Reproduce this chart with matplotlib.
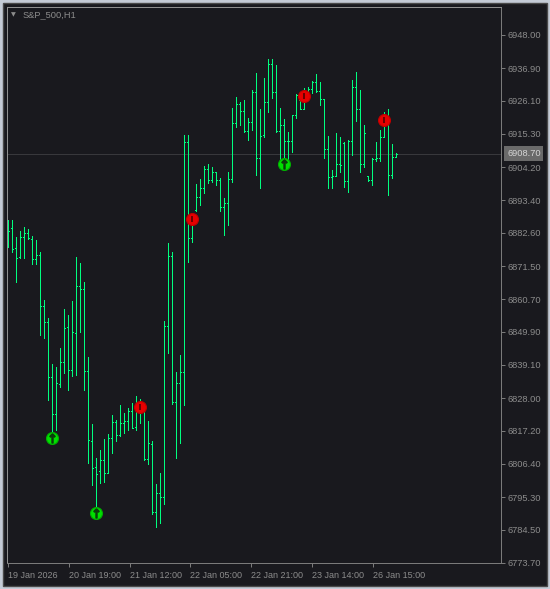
"""
Recreate the S&P_500 H1 bar chart (MetaTrader style) with signal markers.
"""
import matplotlib.pyplot as plt
import numpy as np
from matplotlib.patches import Rectangle

plt.rcParams["font.family"] = ["Liberation Sans", "DejaVu Sans"]

symbol = "S&P_500,H1"

opens = [
    6883.5, 6884.1, 6877.5, 6874.5, 6881.1, 6882.4, 6880.6, 6873.8, 6875.3, 6858.4,
    6853.3, 6834.9, 6822.7, 6832.7, 6839.8, 6851.6, 6837.3, 6849.4, 6865.0, 6863.9,
    6837.1, 6814.0, 6805.4, 6803.8, 6807.6, 6803.2, 6814.9, 6820.3, 6815.8, 6819.7,
    6820.4, 6823.8, 6818.4, 6824.7, 6824.1, 6807.9, 6812.8, 6790.3, 6796.6, 6795.5,
    6851.9, 6875.0, 6826.6, 6832.9, 6836.6, 6912.4, 6880.8, 6890.1, 6894.5, 6897.5,
    6903.6, 6900.0, 6902.6, 6900.0, 6891.1, 6892.3, 6900.4, 6918.7, 6925.0, 6922.9,
    6916.2, 6919.2, 6929.2, 6907.2, 6914.7, 6925.9, 6938.3, 6929.0, 6916.3, 6918.0,
    6912.9, 6912.9, 6921.3, 6926.4, 6923.4, 6929.4, 6930.1, 6932.3, 6929.3, 6926.7,
    6910.2, 6900.9, 6901.4, 6905.2, 6912.1, 6899.7, 6913.0, 6930.8, 6923.6, 6905.3,
    6901.4, 6900.0, 6907.0, 6907.2, 6914.1, 6921.5, 6901.7, 6907.5,
]
highs = [
    6886.8, 6886.8, 6881.3, 6883.2, 6884.5, 6883.9, 6881.5, 6880.2, 6876.4, 6860.4,
    6854.6, 6839.3, 6838.4, 6844.5, 6857.5, 6855.5, 6860.1, 6874.6, 6872.6, 6866.4,
    6841.6, 6819.5, 6808.4, 6810.9, 6814.5, 6816.1, 6822.4, 6820.8, 6825.8, 6823.2,
    6824.7, 6826.5, 6828.7, 6827.6, 6824.3, 6820.5, 6813.9, 6799.7, 6803.2, 6853.5,
    6879.2, 6876.3, 6836.7, 6842.3, 6914.9, 6914.9, 6889.0, 6898.7, 6900.4, 6904.7,
    6905.3, 6904.3, 6902.6, 6900.7, 6894.1, 6902.7, 6923.8, 6927.4, 6925.8, 6926.4,
    6920.5, 6929.7, 6935.4, 6923.5, 6933.7, 6940.0, 6940.0, 6938.0, 6923.7, 6920.2,
    6916.0, 6921.5, 6928.4, 6929.0, 6930.3, 6930.6, 6932.7, 6935.0, 6932.3, 6926.7,
    6914.6, 6903.3, 6915.6, 6914.1, 6912.5, 6913.2, 6933.0, 6935.6, 6929.7, 6918.2,
    6901.4, 6907.3, 6912.6, 6916.5, 6922.3, 6923.4, 6911.9, 6908.8,
]
lows = [
    6878.0, 6876.1, 6866.5, 6874.4, 6874.1, 6880.4, 6872.2, 6872.2, 6849.0, 6848.0,
    6827.4, 6817.0, 6817.5, 6831.8, 6836.4, 6830.7, 6835.4, 6835.8, 6850.0, 6830.7,
    6806.7, 6799.4, 6792.4, 6799.9, 6800.4, 6803.2, 6809.8, 6814.0, 6815.5, 6816.6,
    6817.5, 6818.1, 6817.5, 6819.7, 6807.6, 6806.2, 6789.7, 6785.6, 6786.7, 6793.0,
    6843.0, 6826.0, 6808.2, 6813.1, 6825.7, 6873.1, 6879.7, 6889.9, 6891.9, 6895.8,
    6898.9, 6899.5, 6898.2, 6889.9, 6881.7, 6885.0, 6899.2, 6917.6, 6918.1, 6915.7,
    6913.2, 6916.5, 6901.8, 6897.2, 6914.1, 6922.6, 6927.0, 6916.0, 6906.6, 6907.4,
    6906.6, 6909.1, 6920.4, 6923.4, 6923.4, 6926.4, 6928.6, 6929.0, 6924.6, 6907.2,
    6897.2, 6897.2, 6901.4, 6902.7, 6897.6, 6896.2, 6908.1, 6919.6, 6902.8, 6904.2,
    6899.8, 6898.5, 6906.2, 6906.4, 6914.1, 6895.0, 6900.8, 6907.5,
]
closes = [
    6883.1, 6877.2, 6874.2, 6881.1, 6882.4, 6881.0, 6873.8, 6875.3, 6858.4, 6853.3,
    6834.9, 6822.7, 6833.1, 6839.8, 6851.3, 6837.3, 6849.7, 6865.0, 6863.9, 6837.1,
    6814.2, 6804.9, 6802.9, 6807.6, 6803.2, 6814.9, 6820.3, 6815.8, 6819.7, 6820.4,
    6823.8, 6818.3, 6824.7, 6825.2, 6807.9, 6813.1, 6790.3, 6796.6, 6795.5, 6851.9,
    6875.0, 6826.6, 6832.9, 6836.6, 6912.4, 6880.8, 6886.8, 6894.5, 6897.5, 6903.6,
    6900.0, 6902.6, 6900.0, 6891.1, 6892.3, 6900.4, 6918.7, 6925.0, 6922.9, 6916.2,
    6919.2, 6929.2, 6907.2, 6914.6, 6925.9, 6938.3, 6929.0, 6916.3, 6918.0, 6912.9,
    6912.9, 6921.3, 6928.1, 6923.4, 6929.4, 6930.1, 6932.3, 6929.3, 6926.7, 6910.2,
    6900.9, 6901.4, 6905.2, 6905.0, 6899.7, 6913.0, 6930.8, 6923.6, 6905.3, 6915.4,
    6900.0, 6907.0, 6907.2, 6914.1, 6921.5, 6901.7, 6907.5, 6908.7,
]

buy_bars = [11, 22, 69]
buy_prices = [6814.9, 6790.1, 6905.2]
sell_bars = [33, 46, 74, 94]
sell_prices = [6825.1, 6887.0, 6927.8, 6919.8]

price_ticks = [
    6948.00, 6936.90, 6926.10, 6915.30, 6904.20, 6893.40, 6882.60, 6871.50, 6860.70,
    6849.90, 6839.10, 6828.00, 6817.20, 6806.40, 6795.30, 6784.50, 6773.70,
]
time_labels = [
    "19 Jan 2026", "20 Jan 19:00", "21 Jan 12:00", "22 Jan 05:00",
    "22 Jan 21:00", "23 Jan 14:00", "26 Jan 15:00",
]
time_positions = [-0.1, 15.1, 30.35, 45.5, 60.7, 75.9, 91.1]

BG = "#19191e"
BAR = "#00ff7f"
TEXT = "#8c8c8c"
PX = 0.72  # one pixel in points at dpi 100


def draw_bars(ax, o, h, l, c):
    x = np.arange(len(c))
    ax.vlines(x, l, h, colors=BAR, linewidth=PX, antialiased=False)
    ax.hlines(o, x - 0.25, x, colors=BAR, linewidth=PX, antialiased=False)
    ax.hlines(c, x, x + 0.25, colors=BAR, linewidth=PX, antialiased=False)


def draw_signals(ax):
    ax.plot(buy_bars, buy_prices, "o", ms=8.6, mfc="#00e000", mec="#00b000", mew=0.8, zorder=5)
    ax.plot(buy_bars, buy_prices, marker=r"$\uparrow$", ls="none", ms=6.5, color="#0b3b0b", zorder=6)
    ax.plot(sell_bars, sell_prices, "o", ms=8.6, mfc="#e60000", mec="#c00000", mew=0.8, zorder=5)
    ax.plot(sell_bars, sell_prices, marker="|", ls="none", ms=5, mew=1.2, color="#500000", zorder=6)


if __name__ == "__main__":
    fig = plt.figure(figsize=(5.5, 5.89), dpi=100, facecolor="#c4cbd6")
    fig.patches.append(Rectangle((3 / 550, 3 / 589), 544 / 550, 583 / 589,
                                 transform=fig.transFigure, facecolor=BG,
                                 edgecolor="#4a4a4a", linewidth=1, zorder=-10))

    ax = fig.add_axes([7 / 550, 26 / 589, 494 / 550, 556 / 589], facecolor=BG)
    ax.set_xlim(-0.3, 123.2)
    ax.set_ylim(6773.6, 6957.1)

    ax.axhline(closes[-1], color="#38383c", linewidth=PX, zorder=0)
    draw_bars(ax, opens, highs, lows, closes)
    draw_signals(ax)

    for side in ["left", "top"]:
        ax.spines[side].set_color("#8f8f8f")
    for side in ["right", "bottom"]:
        ax.spines[side].set_color("#7a7a7a")
    for spine in ax.spines.values():
        spine.set_linewidth(PX)

    ax.yaxis.tick_right()
    ax.set_yticks(price_ticks)
    ax.set_yticklabels([f"{v:.2f}" for v in price_ticks])
    ax.tick_params(axis="y", length=3, width=PX, pad=1.5, color="#7a7a7a",
                   labelcolor=TEXT, labelsize=6.7)

    ax.set_xticks(time_positions)
    ax.set_xticklabels(time_labels)
    ax.tick_params(axis="x", length=3, width=PX, pad=3, color="#7a7a7a",
                   labelcolor=TEXT, labelsize=6.5)
    for label in ax.get_xticklabels():
        label.set_horizontalalignment("left")

    ax.text(1 + 6 / 494, closes[-1], f"{closes[-1]:.2f}", transform=ax.get_yaxis_transform(),
            ha="left", va="center", fontsize=6.7, color="#d6d6d6",
            bbox=dict(boxstyle="square,pad=0.3", facecolor="#6a6a6a", edgecolor="none"))

    fig.text(11 / 550, 1 - 15 / 589, "\u25bc", fontsize=4.5, color=TEXT, va="center",
             family="DejaVu Sans")
    fig.text(23 / 550, 1 - 15 / 589, symbol, fontsize=6.7, color=TEXT, va="center")

    fig.savefig("out.png", dpi=100, facecolor=fig.get_facecolor())
    plt.close(fig)
